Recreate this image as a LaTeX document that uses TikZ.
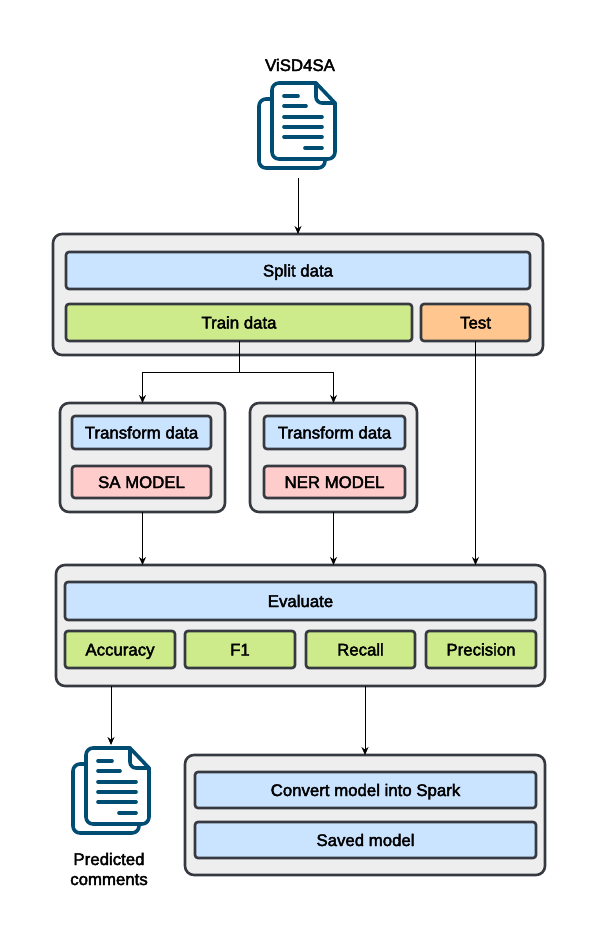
\documentclass[tikz,border=0pt]{standalone}
\usepackage{fontspec}
\setmainfont{Liberation Sans}
\newfontfamily\lblfont[FakeBold=2.5]{Liberation Sans}
\usetikzlibrary{arrows.meta}
\definecolor{edgegray}{HTML}{363A40}
\definecolor{outerfill}{HTML}{EEEEEE}
\definecolor{bluefill}{HTML}{CAE4FF}
\definecolor{greenfill}{HTML}{CDEB8B}
\definecolor{orangefill}{HTML}{FFC78F}
\definecolor{pinkfill}{HTML}{FFCCCC}
\definecolor{iconblue}{HTML}{004D73}
\tikzset{
  x=1pt,y=-1pt,
  panel/.style={draw=edgegray,line width=2.6pt,fill=outerfill,rounded corners=9pt,inner sep=0pt},
  cell/.style={draw=edgegray,line width=2.6pt,rounded corners=3pt,inner sep=0pt,text height=12pt,text depth=0pt,font=\lblfont\fontsize{16.8}{18}\selectfont,text=black},
  bluecell/.style={cell,fill=bluefill},
  greencell/.style={cell,fill=greenfill},
  orangecell/.style={cell,fill=orangefill},
  pinkcell/.style={cell,fill=pinkfill},
  caption/.style={font=\lblfont\fontsize{16.8}{20}\selectfont,align=center,inner sep=0pt},
  link/.style={draw=black,line width=0.8pt,-{Stealth[length=8pt,width=7pt]}},
  plainlink/.style={draw=black,line width=0.8pt},
  iconline/.style={draw=iconblue,line width=3.6pt,line cap=round,line join=round},
  ghost/.style={inner sep=0pt,draw=none,fill=none},
}
% #1 style, #2 name, #3 x0, #4 y0, #5 x1, #6 y1, #7 text
\newcommand{\pxbox}[7]{%
  \pgfmathsetmacro{\bw}{#5-#3}\pgfmathsetmacro{\bh}{#6-#4}%
  \node[#1,minimum width=\bw pt,minimum height=\bh pt,outer sep=0pt] (#2) at ({(#3+#5)/2},{(#4+#6)/2}) {#7};}
% document icon with front page top-left at given shift
\newcommand{\docicon}[2]{%
  \begin{scope}[shift={(#1,#2)}]
    \draw[iconline,rounded corners=7pt] (13,16) -- (0,16) -- (0,85) -- (66,85) -- (66,76);
    \draw[iconline,rounded corners=7pt] (44,0) -- (13,0) -- (13,76) -- (76,76) -- (76,20);
    \draw[iconline] (44,0) -- (57,0) -- (76,20);
    \draw[iconline,rounded corners=6pt] (57,0) -- (57,20) -- (76,20);
    \draw[iconline] (25,13) -- (39,13);
    \draw[iconline] (25,23) -- (47,23);
    \draw[iconline] (25,34) -- (63,34);
    \draw[iconline] (25,44) -- (63,44);
    \draw[iconline] (25,54) -- (63,54);
    \draw[iconline] (46,65) -- (63,65);
  \end{scope}}
\begin{document}
\begin{tikzpicture}
\useasboundingbox (0,0) rectangle (596,938);
\node[caption] (title) at (300,65) {ViSD4SA};
\docicon{259}{83}
\pxbox{ghost}{docA}{258}{83}{338}{178}{}
\docicon{73}{748}
\pxbox{ghost}{docB}{72}{745}{150}{843}{}
\node[caption] (predicted) at (109,869) {Predicted\\comments};

\pxbox{panel}{split}{53}{234}{543}{355}{}
\pxbox{bluecell}{splitdata}{66}{252}{530}{289}{Split data}
\pxbox{greencell}{train}{66}{304}{412}{341}{Train data}
\pxbox{orangecell}{test}{421}{304}{530}{341}{Test}

\pxbox{panel}{sabox}{60}{403}{225}{512}{}
\pxbox{bluecell}{tfa}{72}{416}{211}{449}{Transform data}
\pxbox{pinkcell}{sam}{72}{466}{211}{498}{SA MODEL}

\pxbox{panel}{nerbox}{250}{403}{417}{512}{}
\pxbox{bluecell}{tfb}{264}{416}{405}{449}{Transform data}
\pxbox{pinkcell}{ner}{264}{466}{405}{498}{NER MODEL}

\pxbox{panel}{evalbox}{56}{565}{545}{686}{}
\pxbox{bluecell}{evaluate}{65}{582}{536}{620}{Evaluate}
\pxbox{greencell}{acc}{65}{631}{175}{668}{Accuracy}
\pxbox{greencell}{fone}{185}{631}{295}{668}{F1}
\pxbox{greencell}{rec}{306}{631}{415}{668}{Recall}
\pxbox{greencell}{prec}{426}{631}{536}{668}{Precision}

\pxbox{panel}{sparkbox}{185}{755}{545}{875}{}
\pxbox{bluecell}{convert}{195}{772}{536}{808}{Convert model into Spark}
\pxbox{bluecell}{saved}{195}{822}{536}{858}{Saved model}

\coordinate (fork) at (239,372);
\draw[link] (docA.south) -- (docA.south |- split.north);
\draw[plainlink] (train.south) -- (fork);
\draw[link] (fork) -| (sabox.north);
\draw[link] (fork) -| (nerbox.north);
\draw[link] (test.south) -- (test.south |- evalbox.north);
\draw[link] (sabox.south) -- (sabox.south |- evalbox.north);
\draw[link] (nerbox.south) -- (nerbox.south |- evalbox.north);
\draw[link] (evalbox.south -| docB.north) -- (docB.north);
\draw[link] (evalbox.south -| sparkbox.north) -- (sparkbox.north);
\end{tikzpicture}
\end{document}
